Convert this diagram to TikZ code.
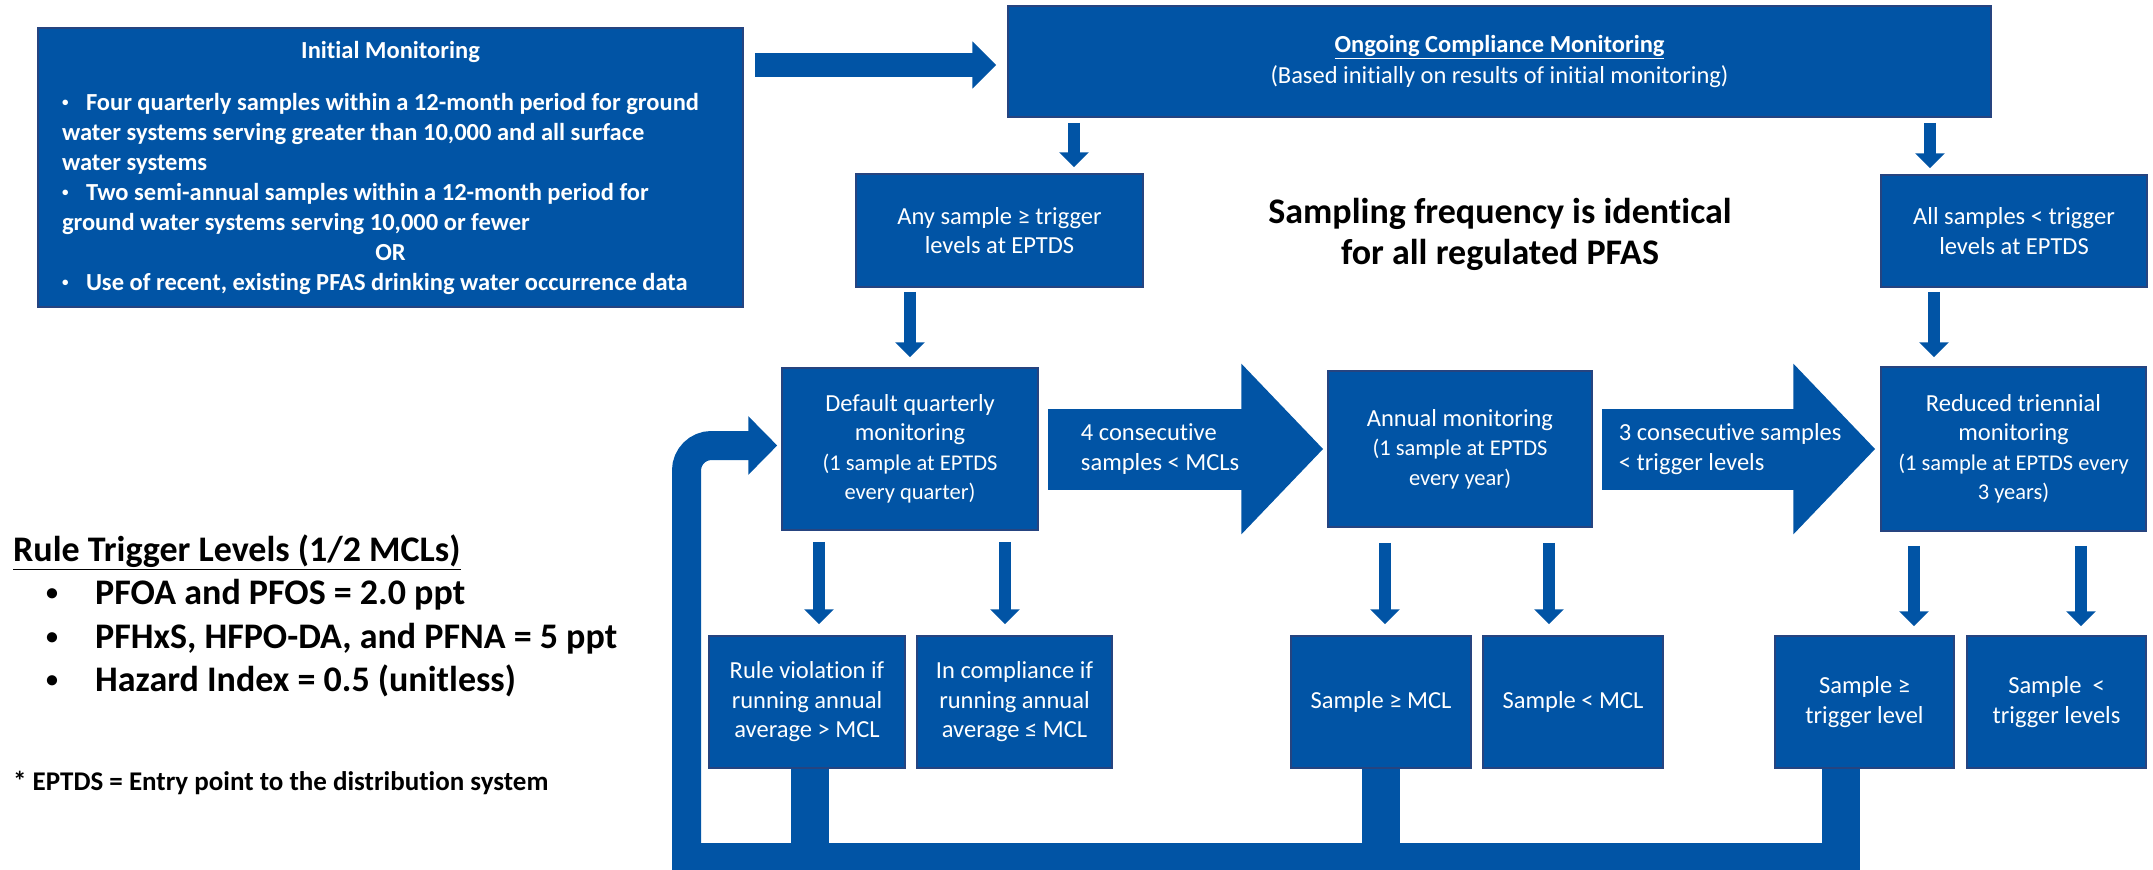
\documentclass[tikz,border=0pt]{standalone}
\usepackage{fontspec}
\setmainfont{Carlito}[Ligatures=NoCommon]
\usetikzlibrary{arrows.meta}
\definecolor{boxblue}{RGB}{1,84,165}
\definecolor{boxedge}{RGB}{38,68,128}
\newcommand{\parenfont}{\fontsize{22.5}{29.5}\selectfont}
\newcommand{\bul}{\makebox[24pt][l]{\raisebox{4pt}{\fontsize{13}{13}\selectfont\textbullet}}}
\newcommand{\legbul}{\hspace*{33pt}\makebox[49pt][l]{\raisebox{4pt}{\fontsize{24}{24}\selectfont\textbullet}}}

\begin{document}
\begin{tikzpicture}[x=1pt, y=-1pt,
  every node/.style={inner sep=0pt, font=\fontsize{24.5}{29.5}\selectfont},
  bluebox/.style={draw=boxedge, line width=1.5pt, fill=boxblue, text=white, align=center},
  arrowlab/.style={text=white, align=left},
  downarr/.style={boxblue, line width=12.5pt, -{Triangle[width=29pt,length=15pt]}},
  bigarr/.style={boxblue, line width=81pt, -{Triangle[width=166pt,length=82pt]}, shorten <=9pt},
  feedline/.style={boxblue, line width=38pt}]
  \useasboundingbox (0,0) rectangle (2153,870);
  \clip (0,0) rectangle (2153,870);

  % top row
  \node[bluebox, minimum width=705pt, minimum height=279pt, font=\fontsize{24.5}{30}\selectfont] (init) at (390.5,167.5) {\parbox{670pt}{\bfseries\raggedright\leftskip=6.5pt
    {\centering Initial Monitoring\par}
    \vspace{22pt}
    \hangindent=24pt\hangafter=1\bul Four quarterly samples within a 12-month period for ground\\
    water systems serving greater than 10,000 and all surface\\
    water systems\par
    \hangindent=24pt\hangafter=1\bul Two semi-annual samples within a 12-month period for\\
    ground water systems serving 10,000 or fewer\par
    {\centering OR\par}
    \bul Use of recent, existing PFAS drinking water occurrence data\par}};
  \node[bluebox, minimum width=983pt, minimum height=111pt, font=\fontsize{24.5}{31}\selectfont] (ongo) at (1499.5,61.5) {\textbf{\underline{Ongoing Compliance Monitoring}}\\(Based initially on results of initial monitoring)};
  \node[bluebox, minimum width=287pt, minimum height=113pt] (anys) at (999.5,230.5) {Any sample ≥ trigger\\levels at EPTDS};
  \node[bluebox, minimum width=266pt, minimum height=112pt] (alls) at (2014,231) {All samples < trigger\\levels at EPTDS};
  \node[align=center, font=\fontsize{36}{41}\selectfont\bfseries] (freq) at (1500,234) {Sampling frequency is identical\\for all regulated PFAS};

  % monitoring row
  \node[bluebox, minimum width=256pt, minimum height=162pt] (dqm) at (910,449) {Default quarterly\\monitoring\\{\parenfont (1 sample at EPTDS}\\{\parenfont every quarter)}};
  \node[bluebox, minimum width=264pt, minimum height=156pt] (annual) at (1460,449) {Annual monitoring\\{\parenfont (1 sample at EPTDS}\\{\parenfont every year)}};
  \node[bluebox, minimum width=265pt, minimum height=164pt] (reduced) at (2013.5,449) {Reduced triennial\\monitoring\\{\parenfont (1 sample at EPTDS every}\\{\parenfont 3 years)}};

  % result row
  \node[bluebox, minimum width=196pt, minimum height=132pt] (viol) at (807,702) {Rule violation if\\running annual\\average > MCL};
  \node[bluebox, minimum width=195pt, minimum height=132pt] (comp) at (1014.5,702) {In compliance if\\running annual\\average ≤ MCL};
  \node[bluebox, minimum width=180pt, minimum height=132pt] (smcl) at (1381,702) {Sample ≥ MCL};
  \node[bluebox, minimum width=180pt, minimum height=132pt] (lmcl) at (1573,702) {Sample < MCL};
  \node[bluebox, minimum width=179pt, minimum height=132pt] (strig) at (1864.5,702) {Sample ≥\\trigger level};
  \node[bluebox, minimum width=179pt, minimum height=132pt] (ltrig) at (2056.5,702) {Sample~~<\\trigger levels};

  % legend
  \node[anchor=west, align=left, font=\fontsize{36}{43.5}\selectfont\bfseries] (trigleg) at (13,616) {\underline{Rule Trigger Levels (1/2 MCLs)}\\
    \legbul PFOA and PFOS = 2.0 ppt\\
    \legbul PFHxS, HFPO-DA, and PFNA = 5 ppt\\
    \legbul Hazard Index = 0.5 (unitless)};
  \node[anchor=west, font=\fontsize{27}{32}\selectfont\bfseries] (eptds) at (13,783) {* EPTDS = Entry point to the distribution system};

  % connectors
  \path ([yshift=-3.5pt]ongo.west) coordinate (ongoin);
  \draw[boxblue, line width=24pt, -{Triangle[width=46pt,length=24pt]}, shorten <=11pt, shorten >=11pt] (init.east |- ongoin) -- (ongoin);
  \draw[downarr, shorten <=5pt, shorten >=6pt] ([xshift=74.5pt]anys.north |- ongo.south) -- ([xshift=74.5pt]anys.north);
  \draw[downarr, shorten <=5pt, shorten >=6pt] ([xshift=-84pt]alls.north |- ongo.south) -- ([xshift=-84pt]alls.north);
  \draw[downarr, shorten <=4pt, shorten >=10pt] (dqm.north |- anys.south) -- (dqm.north);
  \draw[downarr, shorten <=4pt, shorten >=9pt] ([xshift=-79.5pt]reduced.north |- alls.south) -- ([xshift=-79.5pt]reduced.north);
  \draw[downarr, shorten <=11pt, shorten >=11pt] ([xshift=12pt]viol.north |- dqm.south) -- ([xshift=12pt]viol.north);
  \draw[downarr, shorten <=11pt, shorten >=11pt] ([xshift=-9.5pt]comp.north |- dqm.south) -- ([xshift=-9.5pt]comp.north);
  \draw[downarr, shorten <=15pt, shorten >=11pt] ([xshift=4pt]smcl.north |- annual.south) -- ([xshift=4pt]smcl.north);
  \draw[downarr, shorten <=15pt, shorten >=11pt] ([xshift=-24pt]lmcl.north |- annual.south) -- ([xshift=-24pt]lmcl.north);
  \draw[downarr, shorten <=14pt, shorten >=9pt] ([xshift=49.5pt]strig.north |- reduced.south) -- ([xshift=49.5pt]strig.north);
  \draw[downarr, shorten <=14pt, shorten >=9pt] ([xshift=24.5pt]ltrig.north |- reduced.south) -- ([xshift=24.5pt]ltrig.north);
  \draw[bigarr, shorten >=4pt] (dqm.east) -- (annual.west);
  \draw[bigarr, shorten >=5pt] (annual.east) -- (reduced.west);
  \node[arrowlab, anchor=west] (fourlab) at ([xshift=42pt]dqm.east) {4 consecutive\\samples < MCLs};
  \node[arrowlab, anchor=west] (threelab) at ([xshift=26pt]annual.east) {3 consecutive samples\\< trigger levels};

  % feedback loop
  \coordinate (loopfoot) at (686.5,880);
  \fill[boxblue] (672,843) rectangle (1859,880);
  \draw[feedline] ([xshift=3pt]viol.south) -- ++(0,80);
  \draw[feedline] (smcl.south) -- ++(0,80);
  \draw[feedline] ([xshift=-24pt]strig.south) -- ++(0,110);
  \draw[boxblue, line width=29pt, rounded corners=25pt, -{Triangle[width=57pt,length=29pt]}, shorten >=4pt] (loopfoot) |- ([yshift=3.5pt]dqm.west);
\end{tikzpicture}
\end{document}
